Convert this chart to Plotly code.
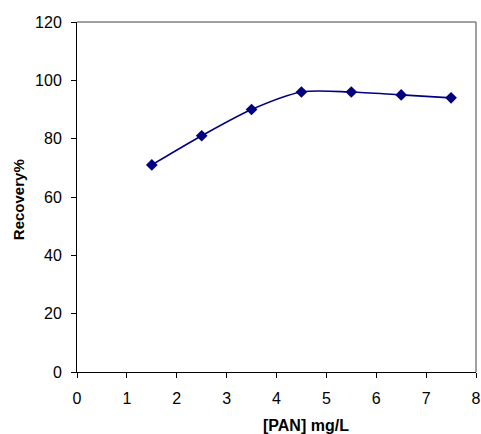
import plotly.graph_objects as go

pan_conc = [1.5, 2.5, 3.5, 4.5, 5.5, 6.5, 7.5]
recovery = [71, 81, 90, 96, 96, 95, 94]
x_ticks = [0, 1, 2, 3, 4, 5, 6, 7, 8]
y_ticks = [0, 20, 40, 60, 80, 100, 120]

fig = go.Figure()
fig.add_trace(go.Scatter(
    x=pan_conc, y=recovery, mode="lines+markers",
    line=dict(color="#000080", width=1.6, shape="spline", smoothing=0.8),
    marker=dict(symbol="diamond", size=9, color="#000080"),
    showlegend=False,
))

font_fam = "Liberation Sans, Arial, sans-serif"
tick_font = dict(family=font_fam, size=16, color="black")
fig.update_layout(
    width=481, height=434,
    margin=dict(l=77, r=5, t=22, b=62, autoexpand=False),
    paper_bgcolor="white", plot_bgcolor="white",
    font=dict(family=font_fam, size=14, color="black"),
    xaxis=dict(range=[0, 8], tickvals=x_ticks, ticks="outside", ticklen=5,
               tickcolor="black", showline=True, linecolor="black", linewidth=1,
               showgrid=False, zeroline=False, mirror=False, tickfont=tick_font,
               ticklabelstandoff=7),
    yaxis=dict(range=[0, 120], tickvals=y_ticks, ticks="outside", ticklen=5,
               tickcolor="black", showline=True, linecolor="black", linewidth=1,
               showgrid=False, zeroline=False, mirror=False, tickfont=tick_font,
               ticklabelstandoff=6),
    shapes=[
        dict(type="line", xref="paper", yref="paper", x0=0, x1=1, y0=1, y1=1,
             line=dict(color="#808080", width=1.5)),
        dict(type="line", xref="paper", yref="paper", x0=1, x1=1, y0=0, y1=1,
             line=dict(color="#808080", width=1.5)),
    ],
    annotations=[
        dict(text="<b>[PAN] mg/L</b>", xref="paper", yref="paper", x=0.575, y=0,
             yshift=-53, showarrow=False, font=dict(size=16, family=font_fam),
             xanchor="center", yanchor="middle"),
        dict(text="<b>Recovery%</b>", xref="paper", yref="paper", x=0, y=0.491,
             xshift=-59, textangle=-90, showarrow=False,
             font=dict(size=15, family=font_fam), xanchor="center", yanchor="middle"),
    ],
)

fig.write_html("out.html", config={"displayModeBar": False},
               post_script="document.body.style.margin='0';")
